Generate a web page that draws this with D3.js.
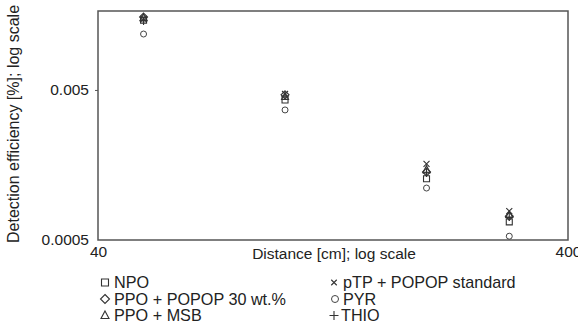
<!DOCTYPE html>
<html>
<head>
<meta charset="utf-8">
<script src="https://cdn.jsdelivr.net/npm/d3@7"></script>
<style>
  body { margin: 0; background: #fff; }
  text { font-family: "Liberation Sans", Arial, sans-serif; fill: #222; }
</style>
</head>
<body>
<div id="chart"></div>
<script>
// distances in cm
const distances = [50, 100, 200, 300];
const seriesNames = ["NPO", "PPO + POPOP 30 wt.%", "PPO + MSB", "pTP + POPOP standard", "PYR", "THIO"];
const seriesSymbols = ["square", "diamond", "triangle", "x", "circle", "plus"];
// detection efficiency [%] per series
const npo     = [0.0146, 0.00429, 0.00128, 0.00066];
const ppoPopop= [0.0153, 0.00464, 0.00142, 0.00072];
const ppoMsb  = [0.0151, 0.0045, 0.00147, 0.000734];
const ptp     = [0.0149, 0.0047, 0.00161, 0.00078];
const pyr     = [0.0118, 0.00368, 0.00111, 0.00053];
const thio    = [0.0144, 0.00456, 0.0014, 0.000712];
const allSeries = [npo, ppoPopop, ppoMsb, ptp, pyr, thio];
const xTicks = [40, 400];
const yTicks = [0.0005, 0.005];

const width = 578, height = 327;
const svg = d3.select("#chart").append("svg")
    .attr("width", width)
    .attr("height", height);

const plotLeft = 98, plotRight = 568, plotTop = 11, plotBottom = 240;
const x = d3.scaleLog().domain([40, 400]).range([plotLeft, plotRight]);
const y = d3.scaleLog().domain([0.0005, 0.0168]).range([plotBottom, plotTop]);

// frame
svg.append("rect")
    .attr("x", plotLeft).attr("y", plotTop)
    .attr("width", plotRight - plotLeft).attr("height", plotBottom - plotTop)
    .attr("fill", "none").attr("stroke", "#555").attr("stroke-width", 1.5);

// y axis ticks
let yAxis = svg.append("g")
    .attr("transform", "translate(" + plotLeft + ",0)")
    .call(d3.axisLeft(y).tickValues(yTicks).tickSize(3).tickFormat(d3.format("")));
yAxis.select(".domain").remove();
yAxis.selectAll("line").attr("stroke", "#555");
yAxis.selectAll("text").attr("font-size", 15.5).attr("x", -9)
    .attr("font-family", "Liberation Sans, Arial, sans-serif").attr("fill", "#222");
yAxis.selectAll(".tick").filter(d => d == 0.0005).select("line").remove();

// x axis labels
let xAxis = svg.append("g")
    .attr("transform", "translate(0," + plotBottom + ")")
    .call(d3.axisBottom(x).tickValues(xTicks).tickSize(0).tickFormat(d3.format("")));
xAxis.select(".domain").remove();
xAxis.selectAll("text").attr("font-size", 15.5).attr("y", 6)
    .attr("font-family", "Liberation Sans, Arial, sans-serif").attr("fill", "#222");

svg.append("text")
    .attr("x", 334).attr("y", 259)
    .attr("text-anchor", "middle")
    .attr("font-size", 15.5)
    .text("Distance [cm]; log scale");

svg.append("text")
    .attr("transform", "translate(19,124) rotate(-90)")
    .attr("text-anchor", "middle")
    .attr("font-size", 16)
    .text("Detection efficiency [%]; log scale");

// symbol drawing
function symbolPath(type, s) {
    const h = s / 2;
    if (type == "square") return "M" + (-h) + "," + (-h) + "h" + s + "v" + s + "h" + (-s) + "Z";
    if (type == "diamond") return "M0," + (-h - 1) + "L" + (h + 1) + ",0L0," + (h + 1) + "L" + (-h - 1) + ",0Z";
    if (type == "triangle") return "M0," + (-h - 1) + "L" + (h + 0.5) + "," + (h - 0.5) + "L" + (-h - 0.5) + "," + (h - 0.5) + "Z";
    if (type == "x") return "M" + (-h) + "," + (-h) + "L" + h + "," + h + "M" + h + "," + (-h) + "L" + (-h) + "," + h;
    if (type == "plus") return "M" + (-h - 1) + ",0H" + (h + 1) + "M0," + (-h - 1) + "V" + (h + 1);
    return null;
}
function drawSymbol(g, type, cx, cy, s) {
    if (type == "circle") {
        g.append("circle").attr("cx", cx).attr("cy", cy).attr("r", s / 2)
            .attr("fill", "none").attr("stroke", "#444").attr("stroke-width", 1);
    } else {
        g.append("path").attr("d", symbolPath(type, s))
            .attr("transform", "translate(" + cx + "," + cy + ")")
            .attr("fill", "none").attr("stroke", "#333").attr("stroke-width", 1.1);
    }
}

const marks = svg.append("g");
allSeries.forEach(function(vals, i) {
    vals.forEach(function(v, j) {
        drawSymbol(marks, seriesSymbols[i], x(distances[j]), y(v), 6);
    });
});

// legend
const legend = svg.append("g");
const legendPos = [[105, 114, 288], [105, 114, 304.5], [105, 114, 321],
                   [334, 343, 288], [335, 343, 304.5], [334, 341, 321]];
seriesNames.forEach(function(name, i) {
    let p = legendPos[i];
    drawSymbol(legend, seriesSymbols[i], p[0], p[2] - 5.5, i == 3 ? 5.5 : 7);
    legend.append("text").attr("x", p[1]).attr("y", p[2])
        .attr("font-size", 16.2).text(name);
});
</script>
</body>
</html>
